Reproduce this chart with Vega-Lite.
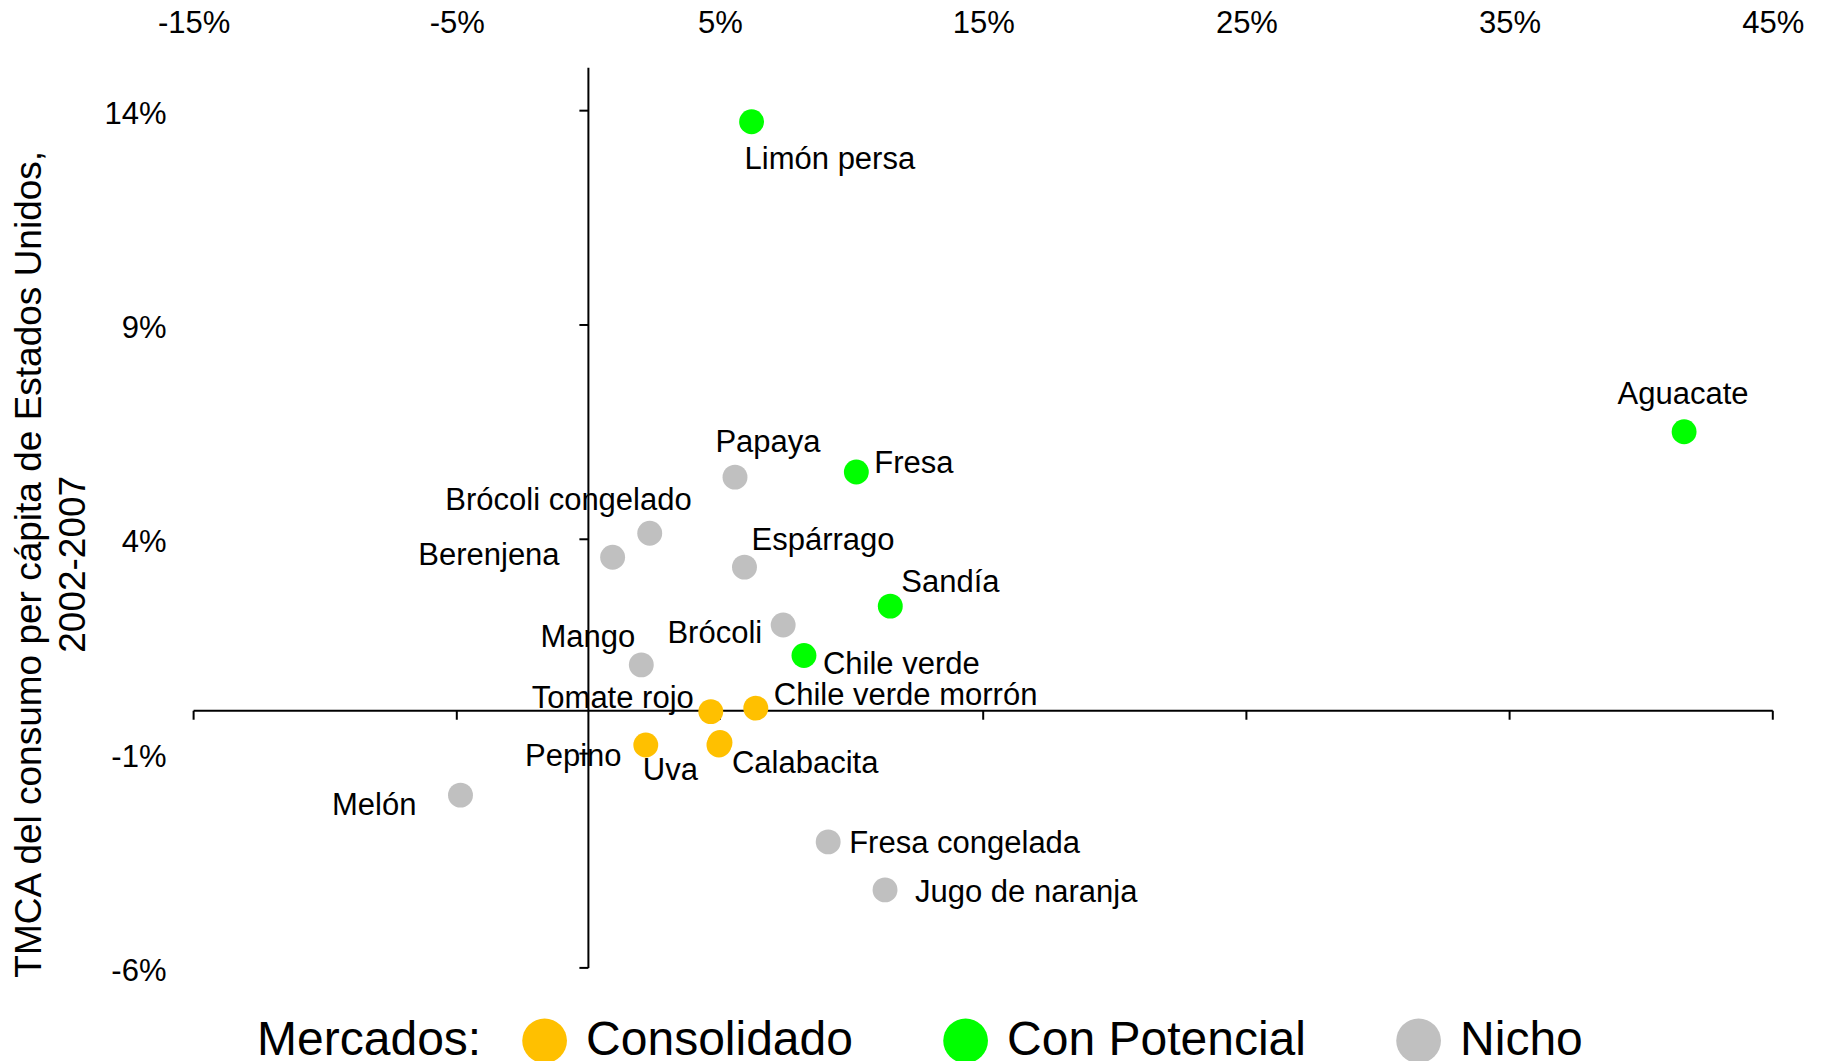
{
  "$schema": "https://vega.github.io/schema/vega-lite/v6.json",
  "autosize": {"type": "none"},
  "width": 1579.2,
  "height": 900.1,
  "padding": {"left": 193.6, "top": 67.8, "right": 48.2, "bottom": 93.1},
  "background": "white",
  "config": {
    "font": "Liberation Sans",
    "view": {"stroke": null},
    "text": {"font": "Liberation Sans", "fontSize": 31, "baseline": "alphabetic", "color": "black"}
  },
  "datasets": {
    "productos": [
      {"producto": "Limón persa", "x": 6.20, "y": 13.74, "mercado": "Con Potencial"},
      {"producto": "Aguacate", "x": 41.63, "y": 6.51, "mercado": "Con Potencial"},
      {"producto": "Papaya", "x": 5.57, "y": 5.45, "mercado": "Nicho"},
      {"producto": "Fresa", "x": 10.18, "y": 5.57, "mercado": "Con Potencial"},
      {"producto": "Brócoli congelado", "x": 2.33, "y": 4.14, "mercado": "Nicho"},
      {"producto": "Berenjena", "x": 0.92, "y": 3.58, "mercado": "Nicho"},
      {"producto": "Espárrago", "x": 5.93, "y": 3.35, "mercado": "Nicho"},
      {"producto": "Sandía", "x": 11.47, "y": 2.44, "mercado": "Con Potencial"},
      {"producto": "Brócoli", "x": 7.40, "y": 2.00, "mercado": "Nicho"},
      {"producto": "Chile verde", "x": 8.19, "y": 1.29, "mercado": "Con Potencial"},
      {"producto": "Mango", "x": 2.01, "y": 1.07, "mercado": "Nicho"},
      {"producto": "Tomate rojo", "x": 4.65, "y": -0.02, "mercado": "Consolidado"},
      {"producto": "Chile verde morrón", "x": 6.36, "y": 0.06, "mercado": "Consolidado"},
      {"producto": "Pepino", "x": 5.00, "y": -0.74, "mercado": "Consolidado"},
      {"producto": "Uva", "x": 2.18, "y": -0.80, "mercado": "Consolidado"},
      {"producto": "Calabacita", "x": 4.96, "y": -0.80, "mercado": "Consolidado"},
      {"producto": "Melón", "x": -4.86, "y": -1.97, "mercado": "Nicho"},
      {"producto": "Fresa congelada", "x": 9.11, "y": -3.06, "mercado": "Nicho"},
      {"producto": "Jugo de naranja", "x": 11.27, "y": -4.18, "mercado": "Nicho"}
    ],
    "ticksX": [{"x": -15}, {"x": -5}, {"x": 5}, {"x": 15}, {"x": 25}, {"x": 35}, {"x": 45}],
    "ticksY": [{"y": -6}, {"y": -1}, {"y": 4}, {"y": 9}, {"y": 14}]
  },
  "layer": [
    {
      "data": {"values": [{}]},
      "mark": {"type": "rule", "color": "black", "strokeWidth": 2},
      "encoding": {"x": {"datum": 0, "type": "quantitative"}, "y": {"datum": -6, "type": "quantitative"}, "y2": {"datum": 15}}
    },
    {
      "data": {"values": [{}]},
      "mark": {"type": "rule", "color": "black", "strokeWidth": 2},
      "encoding": {"y": {"datum": 0, "type": "quantitative"}, "x": {"datum": -15, "type": "quantitative"}, "x2": {"datum": 45}}
    },
    {
      "data": {"name": "ticksX"},
      "mark": {"type": "tick", "orient": "vertical", "size": 9, "thickness": 2, "yOffset": 4.5, "color": "black", "opacity": 1},
      "encoding": {"x": {"field": "x", "type": "quantitative"}, "y": {"datum": 0, "type": "quantitative"}}
    },
    {
      "data": {"name": "ticksY"},
      "mark": {"type": "tick", "orient": "horizontal", "size": 9, "thickness": 2, "xOffset": -4.5, "color": "black", "opacity": 1},
      "encoding": {"y": {"field": "y", "type": "quantitative"}, "x": {"datum": 0, "type": "quantitative"}}
    },
    {
      "data": {"name": "productos"},
      "encoding": {
        "x": {
          "field": "x", "type": "quantitative",
          "scale": {"domain": [-15, 45], "nice": false, "zero": false},
          "axis": {
            "orient": "top", "title": null, "values": [-15, -5, 5, 15, 25, 35, 45],
            "labelExpr": "datum.value + '%'", "domain": false, "ticks": false, "tickSize": 0, "grid": false,
            "labelFontSize": 31, "labelColor": "black", "labelFont": "Liberation Sans",
            "labelBaseline": "alphabetic", "labelPadding": 35, "labelFlush": false, "labelOverlap": false
          }
        },
        "y": {
          "field": "y", "type": "quantitative",
          "scale": {"domain": [-6, 15], "nice": false, "zero": false},
          "axis": {
            "orient": "left",
            "title": ["TMCA del consumo per cápita de Estados Unidos,", "2002-2007"],
            "values": [-6, -1, 4, 9, 14],
            "labelExpr": "datum.value + '%'", "domain": false, "ticks": false, "tickSize": 0, "grid": false,
            "labelFontSize": 31, "labelColor": "black", "labelFont": "Liberation Sans",
            "labelAlign": "right", "labelBaseline": "middle", "labelPadding": 27.6, "labelOffset": 3.5,
            "labelFlush": false, "labelOverlap": false,
            "titleFontSize": 37, "titleFontWeight": "normal", "titleColor": "black", "titleFont": "Liberation Sans",
            "titleAngle": 270, "titleX": -164.6, "titleY": 496, "titleAlign": "center", "titleBaseline": "middle",
            "titleLineHeight": 44
          }
        }
      },
      "layer": [
        {
          "mark": {"type": "circle", "size": 620, "opacity": 1},
          "encoding": {
            "color": {
              "field": "mercado", "type": "nominal",
              "scale": {"domain": ["Consolidado", "Con Potencial", "Nicho"], "range": ["#FFC000", "#00FF00", "#C0C0C0"]},
              "legend": {
                "title": "Mercados:", "orient": "none", "legendX": 63.5, "legendY": 949,
                "direction": "horizontal", "titleOrient": "left",
                "titleFontSize": 48, "titleFontWeight": "normal", "titleColor": "black", "titleFont": "Liberation Sans",
                "titlePadding": 38.5, "titleLimit": 0, "labelFontSize": 48, "labelColor": "black", "labelFont": "Liberation Sans",
                "labelOffset": 17.5, "columnPadding": 88, "symbolType": "circle", "symbolSize": 2000,
                "symbolStrokeWidth": 0, "symbolOpacity": 1, "padding": 0, "labelLimit": 0
              }
            }
          }
        },
        {"transform": [{"filter": "datum.producto === 'Limón persa'"}], "mark": {"type": "text", "align": "left", "dx": -7, "dy": 47}, "encoding": {"text": {"field": "producto"}}},
        {"transform": [{"filter": "datum.producto === 'Aguacate'"}], "mark": {"type": "text", "align": "center", "dx": -1, "dy": -28}, "encoding": {"text": {"field": "producto"}}},
        {"transform": [{"filter": "datum.producto === 'Papaya'"}], "mark": {"type": "text", "align": "center", "dx": 33, "dy": -25}, "encoding": {"text": {"field": "producto"}}},
        {"transform": [{"filter": "datum.producto === 'Fresa'"}], "mark": {"type": "text", "align": "left", "dx": 18, "dy": 1}, "encoding": {"text": {"field": "producto"}}},
        {"transform": [{"filter": "datum.producto === 'Brócoli congelado'"}], "mark": {"type": "text", "align": "right", "dx": 42, "dy": -23}, "encoding": {"text": {"field": "producto"}}},
        {"transform": [{"filter": "datum.producto === 'Berenjena'"}], "mark": {"type": "text", "align": "right", "dx": -53, "dy": 8}, "encoding": {"text": {"field": "producto"}}},
        {"transform": [{"filter": "datum.producto === 'Espárrago'"}], "mark": {"type": "text", "align": "left", "dx": 7, "dy": -17}, "encoding": {"text": {"field": "producto"}}},
        {"transform": [{"filter": "datum.producto === 'Sandía'"}], "mark": {"type": "text", "align": "left", "dx": 11, "dy": -14}, "encoding": {"text": {"field": "producto"}}},
        {"transform": [{"filter": "datum.producto === 'Brócoli'"}], "mark": {"type": "text", "align": "right", "dx": -21, "dy": 18}, "encoding": {"text": {"field": "producto"}}},
        {"transform": [{"filter": "datum.producto === 'Chile verde'"}], "mark": {"type": "text", "align": "left", "dx": 19, "dy": 19}, "encoding": {"text": {"field": "producto"}}},
        {"transform": [{"filter": "datum.producto === 'Mango'"}], "mark": {"type": "text", "align": "right", "dx": -6, "dy": -18}, "encoding": {"text": {"field": "producto"}}},
        {"transform": [{"filter": "datum.producto === 'Tomate rojo'"}], "mark": {"type": "text", "align": "right", "dx": -17, "dy": -4}, "encoding": {"text": {"field": "producto"}}},
        {"transform": [{"filter": "datum.producto === 'Chile verde morrón'"}], "mark": {"type": "text", "align": "left", "dx": 18, "dy": -3}, "encoding": {"text": {"field": "producto"}}},
        {"transform": [{"filter": "datum.producto === 'Pepino'"}], "mark": {"type": "text", "align": "right", "dx": -98.5, "dy": 24}, "encoding": {"text": {"field": "producto"}}},
        {"transform": [{"filter": "datum.producto === 'Uva'"}], "mark": {"type": "text", "align": "left", "dx": -3, "dy": 35}, "encoding": {"text": {"field": "producto"}}},
        {"transform": [{"filter": "datum.producto === 'Calabacita'"}], "mark": {"type": "text", "align": "left", "dx": 13, "dy": 28}, "encoding": {"text": {"field": "producto"}}},
        {"transform": [{"filter": "datum.producto === 'Melón'"}], "mark": {"type": "text", "align": "right", "dx": -44, "dy": 20}, "encoding": {"text": {"field": "producto"}}},
        {"transform": [{"filter": "datum.producto === 'Fresa congelada'"}], "mark": {"type": "text", "align": "left", "dx": 21, "dy": 11}, "encoding": {"text": {"field": "producto"}}},
        {"transform": [{"filter": "datum.producto === 'Jugo de naranja'"}], "mark": {"type": "text", "align": "left", "dx": 30, "dy": 12}, "encoding": {"text": {"field": "producto"}}}
      ]
    }
  ]
}
